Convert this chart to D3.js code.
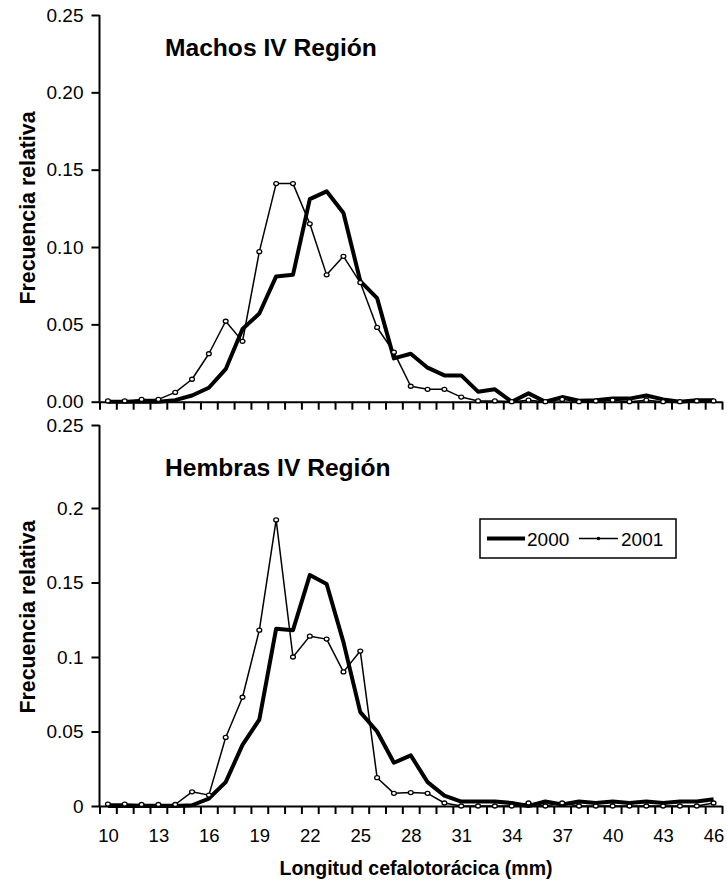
<!DOCTYPE html>
<html><head><meta charset="utf-8">
<script src="https://cdn.jsdelivr.net/npm/d3@7"></script>
<style>body{margin:0;background:#fff}svg{display:block;font-family:"Liberation Sans",Arial,sans-serif}</style>
</head><body>
<svg id="c" width="727" height="888"></svg>
<script>
const categories = d3.range(10, 47);
const machos2000 = [0,0,0,0,0.001,0.004,0.009,0.021,0.047,0.057,0.081,0.082,0.131,0.136,0.122,0.078,0.067,0.028,0.031,0.022,0.017,0.017,0.0065,0.008,0,0.0054,0,0.003,0.0006,0.001,0.002,0.002,0.004,0.0015,0,0.001,0.001];
const machos2001 = [0.0005,0.0005,0.0015,0.0015,0.006,0.0145,0.031,0.052,0.039,0.097,0.141,0.141,0.115,0.082,0.094,0.077,0.048,0.032,0.010,0.008,0.008,0.003,0.0005,0.0005,0,0.001,0,0.0015,0,0.0005,0.001,0,0.001,0,0,0.0005,0.0005];
const hembras2000 = [0,0,0,0,0,0.0005,0.005,0.016,0.041,0.058,0.119,0.118,0.155,0.149,0.110,0.063,0.050,0.029,0.034,0.016,0.007,0.003,0.003,0.003,0.002,0,0.003,0.001,0.003,0.002,0.003,0.002,0.003,0.002,0.003,0.003,0.0045];
const hembras2001 = [0.0013,0.0013,0.001,0.001,0.001,0.0095,0.0073,0.046,0.073,0.118,0.192,0.100,0.114,0.112,0.090,0.104,0.019,0.0085,0.009,0.0085,0.002,0,0,0,0,0.002,0,0.002,0,0,0,0,0,0,0,0,0.002];
const topTicks = [0,0.05,0.10,0.15,0.20,0.25];
const bottomTicks = [0,0.05,0.1,0.15,0.2,0.25];
const xLabelTicks = [10,13,16,19,22,25,28,31,34,37,40,43,46];
const seriesNames = ["2000","2001"];

const svg = d3.select("#c");
const x = d3.scaleLinear().domain([9.5, 46.5]).range([99.5, 722]);
const yTop = d3.scaleLinear().domain([0, 0.25]).range([401.7, 15]);
const yBot = d3.scaleLinear().domain([0, 0.2, 0.25]).range([806, 508, 425]);

function panel(y, ticks, fmt, s2000, s2001, title, titleY, ylabY, showXLabels) {
  const g = svg.append("g");
  const ya = g.append("g").attr("transform", "translate(99.5,0)")
    .call(d3.axisLeft(y).tickValues(ticks).tickFormat(fmt).tickSize(8).tickPadding(8));
  ya.selectAll("path,line").attr("stroke", "#000").attr("stroke-width", 2);
  ya.select("path").attr("d", `M-0,${y(0.25)}V${y(0)}`);
  ya.selectAll("text").attr("font-size", 19).attr("fill", "#000").attr("font-family", "Liberation Sans, Arial, sans-serif");
  const xa = g.append("g").attr("transform", `translate(0,${y(0)})`)
    .call(d3.axisBottom(x).tickValues(d3.range(9.5, 47, 1)).tickFormat("").tickSize(8).tickSizeOuter(0));
  xa.selectAll("path,line").attr("stroke", "#000").attr("stroke-width", 2);
  if (showXLabels) {
    const xl = g.append("g").attr("transform", `translate(0,${y(0)})`)
      .call(d3.axisBottom(x).tickValues(xLabelTicks).tickFormat(d3.format("d")).tickSize(0).tickPadding(23));
    xl.select("path").remove();
    xl.selectAll("text").attr("font-size", 18.5).attr("fill", "#000").attr("font-family", "Liberation Sans, Arial, sans-serif");
  }
  const line = d3.line().x((d, i) => x(categories[i])).y(d => y(d));
  g.append("path").datum(s2000).attr("d", line).attr("fill", "none")
    .attr("stroke", "#000").attr("stroke-width", 4).attr("stroke-linejoin", "round");
  g.append("path").datum(s2001).attr("d", line).attr("fill", "none")
    .attr("stroke", "#000").attr("stroke-width", 1.5).attr("stroke-linejoin", "round");
  g.selectAll("ellipse.m").data(s2001).join("ellipse").attr("class", "m")
    .attr("cx", (d, i) => x(categories[i])).attr("cy", d => y(d))
    .attr("rx", 2.4).attr("ry", 2).attr("fill", "#fff").attr("stroke", "#000").attr("stroke-width", 1.3);
  g.append("text").attr("x", 165).attr("y", titleY).attr("font-size", 24.6).attr("font-weight", "bold")
    .attr("fill", "#000").text(title);
  g.append("text").attr("transform", `translate(35,${ylabY}) rotate(-90)`).attr("text-anchor", "middle")
    .attr("font-size", 21.3).attr("font-weight", "bold").attr("fill", "#000").text("Frecuencia relativa");
}

panel(yTop, topTicks, d3.format(".2f"), machos2000, machos2001, "Machos IV Región", 56, 208, false);
panel(yBot, bottomTicks, d => d === 0 ? "0" : String(d), hembras2000, hembras2001, "Hembras IV Región", 476, 617, true);

svg.append("text").attr("x", 416).attr("y", 875).attr("text-anchor", "middle")
  .attr("font-size", 19.5).attr("font-weight", "bold").attr("fill", "#000").text("Longitud cefalotorácica (mm)");

const lg = svg.append("g");
lg.append("rect").attr("x", 480).attr("y", 519).attr("width", 196).attr("height", 39)
  .attr("fill", "#fff").attr("stroke", "#000").attr("stroke-width", 1.5);
lg.append("line").attr("x1", 487).attr("x2", 525).attr("y1", 538.5).attr("y2", 538.5).attr("stroke", "#000").attr("stroke-width", 4);
lg.append("text").attr("x", 527).attr("y", 545.5).attr("font-size", 19).attr("fill", "#000").text(seriesNames[0]);
lg.append("line").attr("x1", 579).attr("x2", 618).attr("y1", 538.5).attr("y2", 538.5).attr("stroke", "#000").attr("stroke-width", 1.5);
lg.append("circle").attr("cx", 598.5).attr("cy", 538.5).attr("r", 1.8).attr("fill", "#000");
lg.append("text").attr("x", 621).attr("y", 545.5).attr("font-size", 19).attr("fill", "#000").text(seriesNames[1]);
</script>
</body></html>
